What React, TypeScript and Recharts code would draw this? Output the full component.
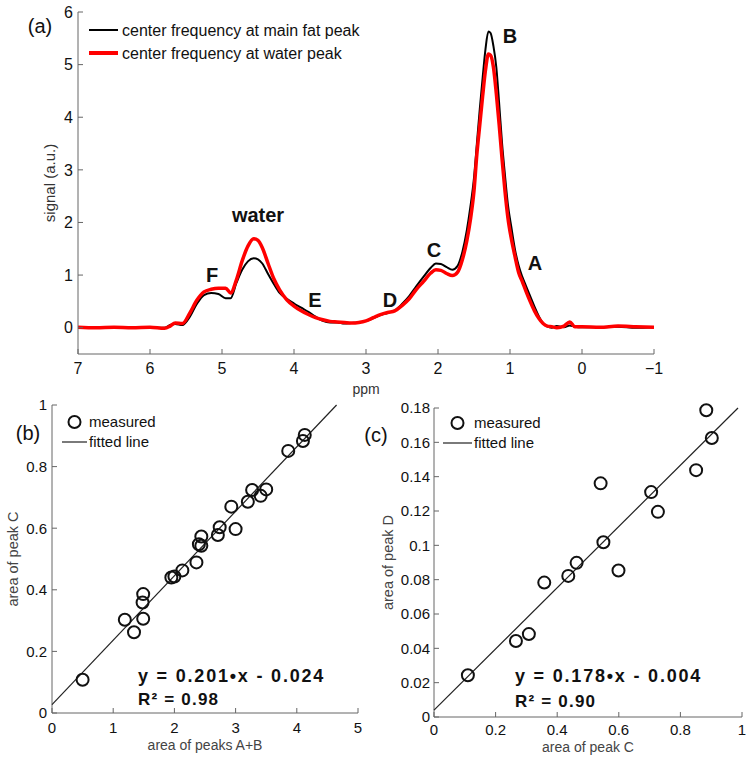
import { LineChart, Line, ScatterChart, Scatter, XAxis, YAxis, Legend, Label } from 'recharts';

const FONT = '"Liberation Sans", Arial, Helvetica, sans-serif';
const AXIS = '#666';

// (a) spectrum
const ppm = [
  7.0, 6.75, 6.5, 6.25, 6.0, 5.8,
  5.72, 5.65, 5.55, 5.45, 5.35, 5.25, 5.15, 5.05, 4.95, 4.88,
  4.8, 4.72, 4.64, 4.56, 4.5, 4.44, 4.36, 4.28, 4.2, 4.1, 4.0,
  3.9, 3.8, 3.7, 3.6, 3.5, 3.4, 3.3, 3.2, 3.1, 3.0,
  2.9, 2.8, 2.7, 2.6, 2.5, 2.4, 2.3, 2.2, 2.1,
  2.03, 1.96, 1.88, 1.8, 1.73, 1.66, 1.6,
  1.55, 1.5, 1.46, 1.42, 1.38, 1.34, 1.3, 1.27, 1.23, 1.19,
  1.15, 1.11, 1.07, 1.03, 0.98, 0.93, 0.88, 0.83, 0.78,
  0.72, 0.66, 0.6, 0.54, 0.48, 0.42, 0.35, 0.25, 0.17, 0.1,
  0.0, -0.25, -0.5, -0.75, -1.0,
];
const fatSignal = [
  0.0, 0.01, 0.0, 0.01, 0.0, 0.0,
  0.05, 0.07, 0.05, 0.2, 0.45, 0.62, 0.66, 0.64, 0.56, 0.56,
  0.85, 1.1, 1.26, 1.32, 1.3, 1.22, 1.02, 0.83, 0.66, 0.55, 0.46,
  0.38, 0.3, 0.21, 0.13, 0.1, 0.1, 0.08, 0.09, 0.1, 0.13,
  0.18, 0.24, 0.28, 0.33, 0.45, 0.6, 0.79, 0.97, 1.14,
  1.22, 1.21, 1.15, 1.1, 1.17, 1.45, 1.85,
  2.3, 2.85, 3.5, 4.15, 4.75, 5.3, 5.63, 5.6, 5.35, 4.95,
  4.25, 3.5, 2.9, 2.35, 1.9, 1.48, 1.18, 0.97, 0.8,
  0.6, 0.4, 0.22, 0.08, 0.02, 0.0, 0.03, 0.01, 0.04, 0.02,
  0.01, 0.01, 0.02, 0.0, 0.01,
];
const waterSignal = [
  0.01, 0.0, 0.01, 0.0, 0.01, -0.01,
  0.03, 0.09, 0.08, 0.27, 0.52, 0.68, 0.73, 0.75, 0.75, 0.66,
  0.91, 1.27, 1.55, 1.69, 1.66, 1.52, 1.22, 0.93, 0.72, 0.53, 0.41,
  0.32, 0.25, 0.19, 0.15, 0.12, 0.11, 0.1, 0.09, 0.1, 0.13,
  0.19, 0.25, 0.29, 0.32, 0.42, 0.55, 0.73, 0.88, 1.04,
  1.1, 1.09, 1.03, 0.99, 1.05, 1.3, 1.65,
  2.05, 2.6, 3.3, 3.85, 4.4, 4.9, 5.2, 5.18, 4.95, 4.45,
  3.85, 3.2, 2.6, 2.1, 1.68, 1.35, 1.05, 0.88, 0.7,
  0.5, 0.32, 0.18, 0.08, 0.03, 0.02, 0.0, 0.03, 0.11, 0.02,
  0.02, 0.01, 0.03, 0.02, 0.01,
];
const spectrum = ppm.map((p, i) => ({ ppm: p, fat: fatSignal[i], water: waterSignal[i] }));
const ppmTicks = [7, 6, 5, 4, 3, 2, 1, 0, -1];
const signalTicks = [0, 1, 2, 3, 4, 5, 6];

// (b) area of peak C vs area of peaks A+B
const areaAB = [0.5, 1.19, 1.34, 1.49, 1.48, 1.49, 1.95, 2.0, 2.13, 2.36, 2.4, 2.44, 2.44, 2.71, 2.74, 2.93, 3.0, 3.2, 3.27, 3.41, 3.5, 3.86, 4.1, 4.13];
const areaC_b = [0.108, 0.303, 0.262, 0.386, 0.359, 0.306, 0.44, 0.443, 0.463, 0.489, 0.548, 0.573, 0.543, 0.578, 0.603, 0.67, 0.597, 0.686, 0.724, 0.705, 0.726, 0.851, 0.883, 0.903];
const measuredB = areaAB.map((x, i) => ({ x, y: areaC_b[i] }));
const fitBx = [0, 4.65];
const fitBy = [0.027, 1.0];
const fitB = fitBx.map((x, i) => ({ x, y: fitBy[i] }));
const abTicks = [0, 1, 2, 3, 4, 5];
const cTicks = [0, 0.2, 0.4, 0.6, 0.8, 1];

// (c) area of peak D vs area of peak C
const areaC_c = [0.11, 0.266, 0.308, 0.358, 0.436, 0.463, 0.541, 0.55, 0.599, 0.705, 0.727, 0.851, 0.884, 0.902];
const areaD = [0.0243, 0.0443, 0.0483, 0.0783, 0.0822, 0.0898, 0.1361, 0.1018, 0.0853, 0.131, 0.1195, 0.1438, 0.1787, 0.1625];
const measuredC = areaC_c.map((x, i) => ({ x, y: areaD[i] }));
const fitCx = [0, 0.987];
const fitCy = [0.004, 0.18];
const fitC = fitCx.map((x, i) => ({ x, y: fitCy[i] }));
const peakCTicks = [0, 0.2, 0.4, 0.6, 0.8, 1];
const dTicks = [0, 0.02, 0.04, 0.06, 0.08, 0.1, 0.12, 0.14, 0.16, 0.18];

const spectrumSeries = [
  { key: 'fat', label: 'center frequency at main fat peak', color: '#000000', width: 2 },
  { key: 'water', label: 'center frequency at water peak', color: '#ff0000', width: 3.5 },
];

const minus = (v: number) => (v < 0 ? `\u2212${Math.abs(v)}` : `${v}`);

function Ring(props: any) {
  const { cx, cy } = props;
  return <circle cx={cx} cy={cy} r={6} fill="none" stroke="#111" strokeWidth={2} />;
}

function SpectrumKey() {
  return (
    <div style={{ fontFamily: FONT, fontSize: 16, color: '#111', lineHeight: '23px' }}>
      {spectrumSeries.map((s) => (
        <div key={s.key} style={{ display: 'flex', alignItems: 'center', whiteSpace: 'nowrap' }}>
          <span style={{ display: 'inline-block', width: 29, height: s.width, background: s.color, marginRight: 4 }} />
          {s.label}
        </div>
      ))}
    </div>
  );
}

function ScatterKey({ w }: { w: number }) {
  return (
    <div style={{ fontFamily: FONT, fontSize: 15, color: '#111', lineHeight: '20px' }}>
      <div style={{ display: 'flex', alignItems: 'center', whiteSpace: 'nowrap' }}>
        <svg width={w} height={20}>
          <circle cx={w / 2} cy={10} r={6} fill="none" stroke="#111" strokeWidth={2} />
        </svg>
        <span style={{ marginLeft: 2 }}>measured</span>
      </div>
      <div style={{ display: 'flex', alignItems: 'center', whiteSpace: 'nowrap' }}>
        <svg width={w} height={20}>
          <line x1={0} x2={w} y1={10} y2={10} stroke="#222" strokeWidth={1.2} />
        </svg>
        <span style={{ marginLeft: 2 }}>fitted line</span>
      </div>
    </div>
  );
}

function Note({ x, baseline, size, bold = true, center = true, spacing = 0, children }: any) {
  return (
    <div
      style={{
        position: 'absolute',
        left: x,
        top: baseline - 0.85 * size,
        fontSize: size,
        lineHeight: 1,
        fontWeight: bold ? 700 : 400,
        letterSpacing: spacing,
        color: '#111',
        whiteSpace: 'nowrap',
        transform: center ? 'translateX(-50%)' : undefined,
      }}
    >
      {children}
    </div>
  );
}

function SpectrumChart() {
  const tick = { fill: '#111', fontSize: 16, fontFamily: FONT };
  return (
    <LineChart width={750} height={400} data={spectrum} margin={{ top: 12, right: 96, bottom: 0, left: 0 }}>
      <XAxis dataKey="ppm" type="number" domain={[-1, 7]} reversed ticks={ppmTicks} height={46}
        tickSize={-5} tickMargin={14} stroke={AXIS} tick={tick} tickFormatter={minus} allowDataOverflow>
        <Label value="ppm" position="insideBottom" offset={6} fill="#333" fontSize={14} fontFamily={FONT} />
      </XAxis>
      <XAxis xAxisId="top" orientation="top" type="number" domain={[-1, 7]} reversed ticks={ppmTicks}
        height={0} tickSize={-5} tick={false} stroke={AXIS} allowDataOverflow />
      <YAxis type="number" domain={[-0.5, 6]} ticks={signalTicks} width={78}
        tickSize={-5} tickMargin={10} stroke={AXIS} tick={tick} allowDataOverflow>
        <Label value="signal (a.u.)" angle={-90} position="insideLeft" offset={50} textAnchor="middle"
          fill="#333" fontSize={15} fontFamily={FONT} />
      </YAxis>
      <YAxis yAxisId="right" orientation="right" type="number" domain={[-0.5, 6]} ticks={signalTicks}
        width={0} tickSize={-5} tick={false} stroke={AXIS} allowDataOverflow />
      {spectrumSeries.map((s) => (
        <Line key={s.key} type="monotone" dataKey={s.key} stroke={s.color} strokeWidth={s.width}
          dot={false} isAnimationActive={false} />
      ))}
      <Legend layout="vertical" align="center" verticalAlign="middle" content={() => <SpectrumKey />}
        wrapperStyle={{ left: 89, top: 18.5, width: 'auto', height: 'auto' }} />
    </LineChart>
  );
}

function ChartB() {
  const tick = { fill: '#111', fontSize: 15, fontFamily: FONT };
  return (
    <ScatterChart width={370} height={369} margin={{ top: 15, right: 12, bottom: 0, left: 0 }}>
      <XAxis dataKey="x" type="number" domain={[0, 5]} ticks={abTicks} height={46}
        tickSize={-5} tickMargin={14} stroke={AXIS} tick={tick}>
        <Label value="area of peaks A+B" position="insideBottom" offset={9} fill="#444" fontSize={14} fontFamily={FONT} />
      </XAxis>
      <XAxis xAxisId="top" orientation="top" type="number" domain={[0, 5]} ticks={abTicks}
        height={0} tickSize={-5} tick={false} stroke={AXIS} />
      <YAxis dataKey="y" type="number" domain={[0, 1]} ticks={cTicks} width={52}
        tickSize={-5} tickMargin={10} stroke={AXIS} tick={tick}>
        <Label value="area of peak C" angle={-90} position="insideLeft" offset={13} textAnchor="middle"
          fill="#444" fontSize={14.5} fontFamily={FONT} />
      </YAxis>
      <YAxis yAxisId="right" orientation="right" type="number" domain={[0, 1]} ticks={cTicks}
        width={0} tickSize={-5} tick={false} stroke={AXIS} />
      <Scatter data={fitB} line={{ stroke: '#222', strokeWidth: 1.2 }} shape={() => <g />} isAnimationActive={false} />
      <Scatter data={measuredB} shape={Ring} isAnimationActive={false} />
      <Legend layout="vertical" align="center" verticalAlign="middle" content={() => <ScatterKey w={25} />}
        wrapperStyle={{ left: 62, top: 22, width: 'auto', height: 'auto' }} />
    </ScatterChart>
  );
}

function ChartC() {
  const tick = { fill: '#111', fontSize: 15, fontFamily: FONT };
  return (
    <ScatterChart width={375} height={369} margin={{ top: 18, right: 8, bottom: 0, left: 0 }}>
      <XAxis dataKey="x" type="number" domain={[0, 1]} ticks={peakCTicks} height={42}
        tickSize={-5} tickMargin={12} stroke={AXIS} tick={tick}>
        <Label value="area of peak C" position="insideBottom" offset={7} fill="#444" fontSize={14} fontFamily={FONT} />
      </XAxis>
      <XAxis xAxisId="top" orientation="top" type="number" domain={[0, 1]} ticks={peakCTicks}
        height={0} tickSize={-5} tick={false} stroke={AXIS} />
      <YAxis dataKey="y" type="number" domain={[0, 0.18]} ticks={dTicks} width={59}
        tickSize={-5} tickMargin={9} stroke={AXIS} tick={tick}>
        <Label value="area of peak D" angle={-90} position="insideLeft" offset={13} textAnchor="middle"
          fill="#444" fontSize={14.5} fontFamily={FONT} />
      </YAxis>
      <YAxis yAxisId="right" orientation="right" type="number" domain={[0, 0.18]} ticks={dTicks}
        width={0} tickSize={-5} tick={false} stroke={AXIS} />
      <Scatter data={fitC} line={{ stroke: '#222', strokeWidth: 1.2 }} shape={() => <g />} isAnimationActive={false} />
      <Scatter data={measuredC} shape={Ring} isAnimationActive={false} />
      <Legend layout="vertical" align="center" verticalAlign="middle" content={() => <ScatterKey w={29} />}
        wrapperStyle={{ left: 68, top: 23, width: 'auto', height: 'auto' }} />
    </ScatterChart>
  );
}

export default function App() {
  return (
    <div style={{ position: 'absolute', left: 0, top: 0, width: 750, height: 759, background: '#fff', fontFamily: FONT, overflow: 'hidden' }}>
      <div style={{ position: 'absolute', left: 0, top: 0 }}><SpectrumChart /></div>
      <div style={{ position: 'absolute', left: 0, top: 390 }}><ChartB /></div>
      <div style={{ position: 'absolute', left: 375, top: 390 }}><ChartC /></div>

      <Note x={40} baseline={33} size={20} bold={false}>(a)</Note>
      <Note x={510} baseline={43} size={20}>B</Note>
      <Note x={258} baseline={222} size={20}>water</Note>
      <Note x={212} baseline={282} size={20}>F</Note>
      <Note x={315} baseline={307} size={20}>E</Note>
      <Note x={390} baseline={307} size={20}>D</Note>
      <Note x={434} baseline={257} size={20}>C</Note>
      <Note x={535} baseline={270} size={20}>A</Note>

      <Note x={28} baseline={440} size={20} bold={false}>(b)</Note>
      <Note x={138} baseline={682.5} size={18} center={false} spacing={1.8}>y = 0.201•x - 0.024</Note>
      <Note x={138} baseline={705} size={17} center={false} spacing={1.2}>R² = 0.98</Note>

      <Note x={376} baseline={442} size={20} bold={false}>(c)</Note>
      <Note x={515} baseline={682.5} size={18} center={false} spacing={1.8}>y = 0.178•x - 0.004</Note>
      <Note x={515} baseline={707} size={17} center={false} spacing={1.2}>R² = 0.90</Note>
    </div>
  );
}
